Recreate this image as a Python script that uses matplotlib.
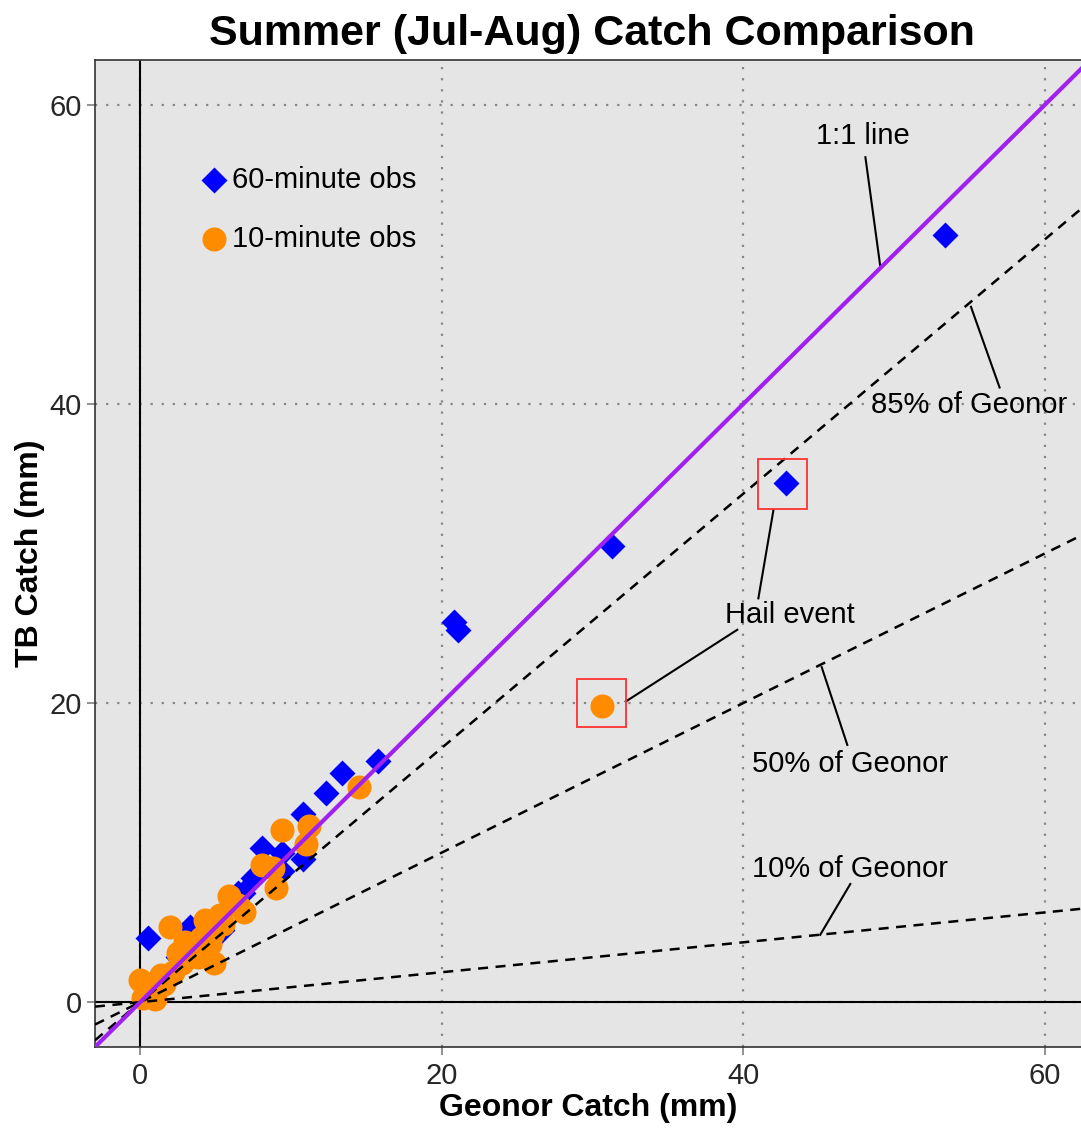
import numpy as np
import matplotlib
matplotlib.use('Agg')
import matplotlib.pyplot as plt
from matplotlib.patches import Rectangle

plt.rcParams['font.family'] = ['Liberation Sans', 'DejaVu Sans']

# 60-minute observations (Geonor, TB) in mm
obs60_x = [53.4, 42.8, 31.3, 20.8, 21.1, 15.8, 13.4, 12.3, 10.8, 8.1, 9.4, 10.8, 9.4, 7.5,
           6.8, 6.5, 0.5, 3.3, 5.4, 3.6, 4.6, 2.5]
obs60_y = [51.3, 34.7, 30.5, 25.4, 24.9, 16.1, 15.3, 14.0, 12.6, 10.3, 10.0, 9.6, 8.8, 8.3,
           7.3, 7.3, 4.3, 5.0, 4.8, 3.3, 4.0, 3.0]

# 10-minute observations
obs10_x = [30.6, 14.5, 9.4, 11.2, 11.0, 8.1, 8.8, 9.0, 5.9, 6.9, 4.9, 2.0, 4.3, 4.8, 5.3,
           3.6, 4.0, 2.8, 2.2, 1.6, 0.0, 0.2, 1.0, 0.6, 3.2, 3.0, 2.5, 1.4, 3.8, 4.6, 5.5, 6.5]
obs10_y = [19.8, 14.4, 11.5, 11.8, 10.6, 9.2, 9.0, 7.6, 7.1, 6.0, 2.6, 5.0, 5.5, 4.6, 5.8,
           3.6, 4.3, 2.6, 2.0, 1.2, 1.5, 0.3, 0.2, 1.0, 3.0, 4.0, 3.3, 1.8, 3.0, 3.9, 5.2, 6.5]

ratios = [0.85, 0.5, 0.1]
ratio_labels = ['85% of Geonor', '50% of Geonor', '10% of Geonor']

fig = plt.figure(figsize=(10.81, 11.31), dpi=100)
ax = fig.add_axes([95/1081, 1 - 1047/1131, 1 - 95/1081, 987/1131])
ax.set_facecolor('#e5e5e5')
ax.set_xlim(-3, 62.4)
ax.set_ylim(-3, 63)

ax.grid(True, linestyle=(0, (1, 4)), linewidth=1.6, color='#858585')
ax.set_axisbelow(True)
ax.axhline(0, color='black', lw=1.5, zorder=1)
ax.axvline(0, color='black', lw=1.5, zorder=1)

ax.scatter(obs60_x, obs60_y, marker='D', s=175, color='blue', linewidths=0, zorder=3)
ax.scatter(obs10_x, obs10_y, marker='o', s=300, color='darkorange', linewidths=0, zorder=4)

xx = np.array([-3, 62.4])
for r in ratios:
    ax.plot(xx, r * xx, color='black', lw=1.8, ls=(0, (4, 3)), zorder=5)
ax.plot(xx, xx, color='#a020f0', lw=3, zorder=6)

# annotations
fs = 21
ax.text(47.9, 57.9, '1:1 line', fontsize=fs, ha='center', va='center')
ax.plot([48.1, 49.1], [56.5, 49.1], color='black', lw=1.5)
ax.text(55.0, 39.9, ratio_labels[0], fontsize=fs, ha='center', va='center')
ax.plot([57.0, 55.1], [41.1, 46.5], color='black', lw=1.5)
ax.text(47.1, 15.9, ratio_labels[1], fontsize=fs, ha='center', va='center')
ax.plot([46.9, 45.2], [17.2, 22.4], color='black', lw=1.5)
ax.text(47.1, 8.9, ratio_labels[2], fontsize=fs, ha='center', va='center')
ax.plot([47.1, 45.1], [7.9, 4.5], color='black', lw=1.5)

ax.text(43.1, 25.9, 'Hail event', fontsize=fs, ha='center', va='center', zorder=7)
ax.plot([41.0, 42.0], [27.0, 32.9], color='black', lw=1.5)
ax.plot([39.6, 32.2], [24.9, 20.1], color='black', lw=1.5)
ax.add_patch(Rectangle((41.0, 33.0), 3.2, 3.3, fill=False, edgecolor='#ff3030', lw=1.3, zorder=7))
ax.add_patch(Rectangle((29.0, 18.4), 3.2, 3.2, fill=False, edgecolor='#ff3030', lw=1.3, zorder=7))

# legend drawn by hand
ax.scatter([4.9], [55.0], marker='D', s=175, color='blue', linewidths=0, zorder=3)
ax.text(6.1, 55.0, '60-minute obs', fontsize=fs, ha='left', va='center')
ax.scatter([4.9], [51.0], marker='o', s=300, color='darkorange', linewidths=0, zorder=3)
ax.text(6.1, 51.0, '10-minute obs', fontsize=fs, ha='left', va='center')

ax.set_xticks([0, 20, 40, 60])
ax.set_yticks([0, 20, 40, 60])
ax.tick_params(labelsize=21, colors='#7f7f7f', labelcolor='#262626', length=6, width=1.2)
ax.tick_params(axis='x', pad=5)
for s in ['left', 'bottom', 'top']:
    ax.spines[s].set_color('#333333')
    ax.spines[s].set_linewidth(1.2)
ax.spines['right'].set_visible(False)

ax.set_xlabel('Geonor Catch (mm)', fontsize=23, fontweight='bold', labelpad=2)
ax.set_ylabel('TB Catch (mm)', fontsize=23, fontweight='bold', labelpad=3)
fig.suptitle('Summer (Jul-Aug) Catch Comparison', fontsize=31, fontweight='bold', x=0.548, y=0.988)

fig.savefig('out.png', dpi=100)
